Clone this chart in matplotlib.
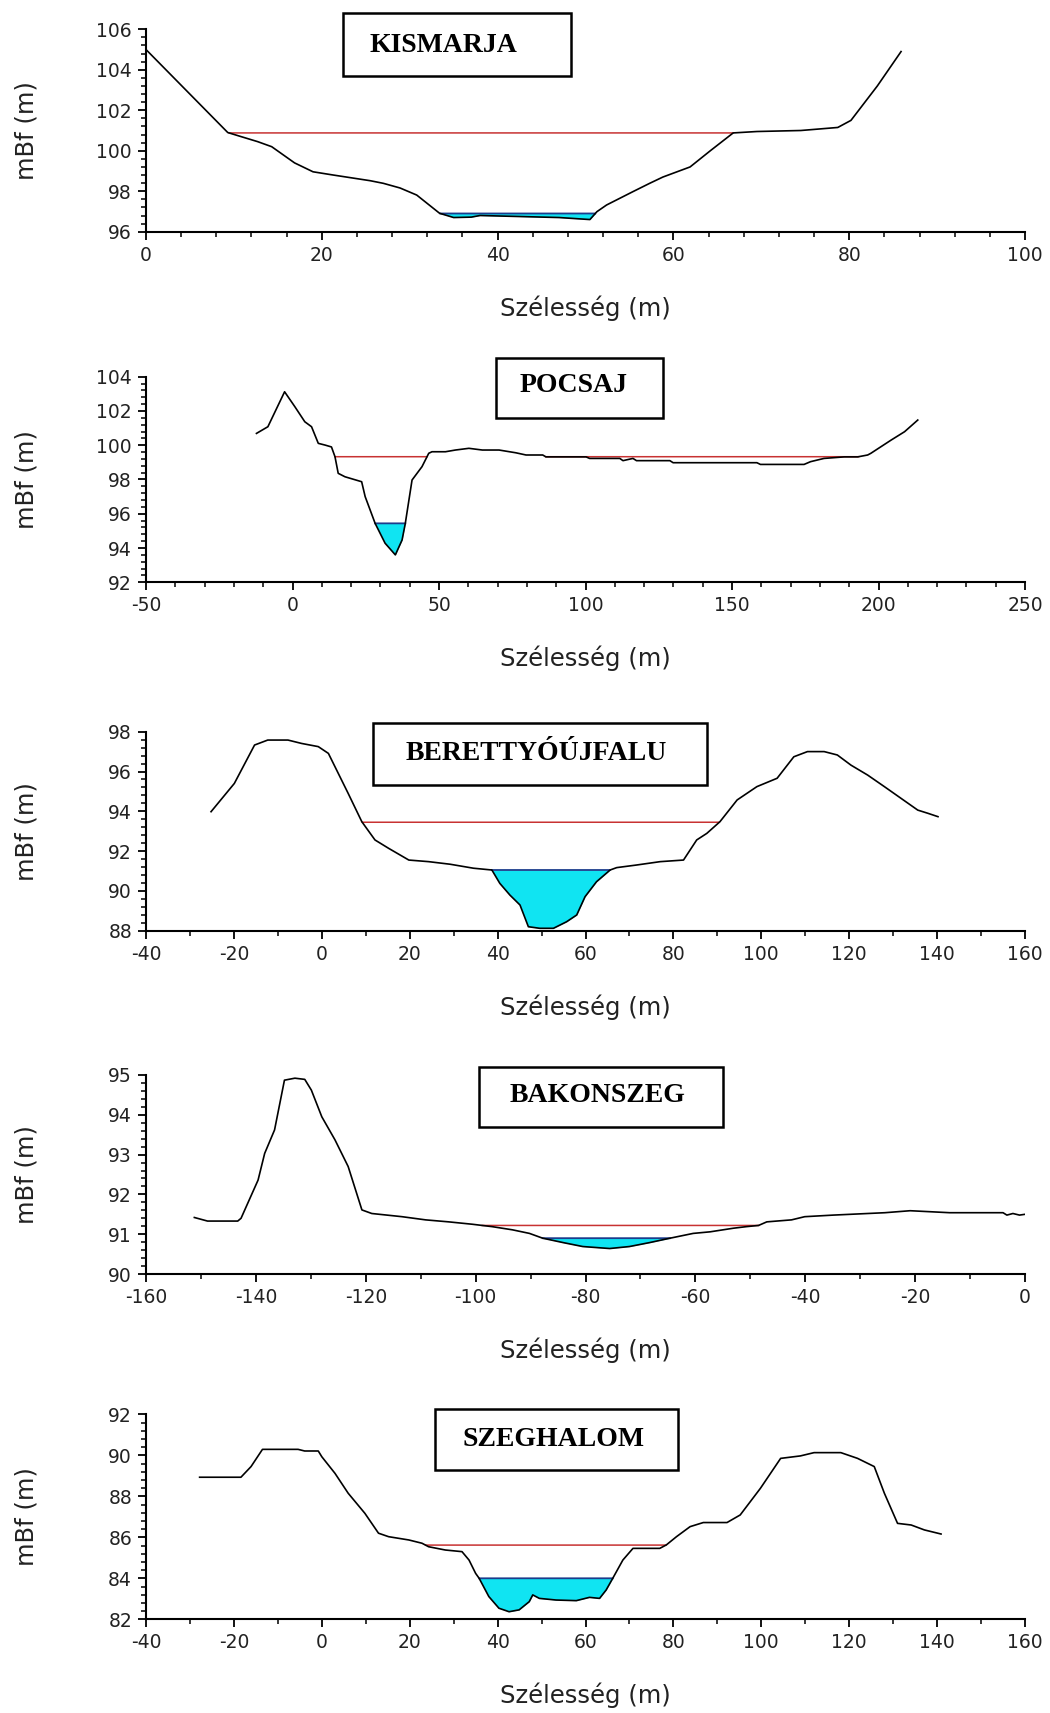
import numpy as np
import matplotlib.pyplot as plt
from matplotlib.ticker import MultipleLocator, AutoMinorLocator
from matplotlib.patches import Rectangle

plt.rcParams['font.family'] = ['DejaVu Sans']
plt.rcParams['axes.unicode_minus'] = False

#
# cross-section data [m, mBf]
#
kis_x = [0, 9.3, 10.8, 12.7, 14.3, 16.9, 19.0, 21.3, 25.5, 27.0, 28.9, 30.8, 33.4, 35, 37, 38, 47,
         50.5, 51.3, 52.4, 55.4, 57.3, 58.8, 61.9, 64.2, 66.8, 69.5, 74.5, 78.7, 80.2, 83.2, 85.9]
kis_z = [105.0, 100.9, 100.7, 100.45, 100.2, 99.4, 98.96, 98.8, 98.52, 98.39, 98.16, 97.81, 96.91,
         96.7, 96.72, 96.8, 96.7, 96.6, 96.99, 97.32, 97.98, 98.39, 98.7, 99.2, 100.0, 100.88,
         100.95, 101.0, 101.15, 101.5, 103.2, 104.9]
kis_flood, kis_water = 100.88, 96.9

poc_x = [-12.3, -8.4, -2.7, 0.8, 4.2, 6.5, 8.8, 11.1, 13.3, 14.5, 15.6, 17.9, 23.6, 24.8, 28.2,
         31.6, 35.1, 37.4, 38.5, 40.8, 44.2, 46.5, 47.6, 52.2, 55.6, 60.2, 64.8, 70.5, 76.2, 79.7,
         85.4, 86.5, 100.2, 101.4, 111.7, 112.8, 116.2, 117.4, 128.8, 129.9, 158.5, 159.7, 174.6,
         176.8, 181.4, 188.3, 192.9, 196.3, 197.4, 204.3, 208.9, 213.4]
poc_z = [100.69, 101.08, 103.12, 102.25, 101.37, 101.08, 100.11, 100.01, 99.9, 99.33, 98.36, 98.16,
         97.87, 97.0, 95.44, 94.28, 93.6, 94.47, 95.44, 97.97, 98.75, 99.53, 99.62, 99.62, 99.72,
         99.82, 99.72, 99.72, 99.56, 99.43, 99.43, 99.32, 99.32, 99.23, 99.23, 99.1, 99.23, 99.1,
         99.1, 98.98, 98.98, 98.88, 98.88, 99.04, 99.23, 99.32, 99.32, 99.43, 99.53, 100.3,
         100.79, 101.47]
poc_flood, poc_water = 99.33, 95.44

ber_x = [-25.2, -19.9, -15.3, -12.3, -7.7, -4.6, -0.8, 1.5, 3.0, 6.0, 9.1, 12.1, 15.2, 19.8, 24.3,
         29.2, 34.5, 38.7, 40.5, 42.8, 45.1, 47.0, 49.6, 52.7, 55.7, 58.0, 59.9, 62.5, 65.6, 67.1,
         71.6, 77.0, 82.3, 85.3, 87.6, 90.6, 94.5, 99.0, 103.6, 107.4, 110.5, 114.3, 117.3, 120.4,
         124.2, 128.0, 131.8, 135.6, 137.9, 140.2]
ber_z = [93.98, 95.4, 97.33, 97.58, 97.58, 97.41, 97.25, 96.91, 96.24, 94.9, 93.48, 92.56, 92.14,
         91.55, 91.47, 91.34, 91.14, 91.05, 90.38, 89.79, 89.29, 88.2, 88.12, 88.12, 88.45, 88.79,
         89.71, 90.46, 91.05, 91.17, 91.3, 91.47, 91.55, 92.56, 92.89, 93.48, 94.57, 95.24, 95.66,
         96.74, 97.0, 97.0, 96.83, 96.32, 95.82, 95.24, 94.65, 94.06, 93.9, 93.73]
ber_flood, ber_water = 93.45, 91.05

bak_x = [-151.2, -148.8, -143.3, -142.7, -139.6, -138.4, -136.6, -134.8, -132.9, -131.1, -129.9,
         -128.0, -125.6, -123.2, -120.7, -118.9, -113.4, -109.1, -104.9, -100.6, -97.0, -93.3,
         -90.2, -87.8, -84.1, -80.5, -75.6, -72.0, -68.3, -64.6, -60.4, -57.3, -53.1, -50.7, -48.5,
         -47.0, -42.5, -40.1, -34.9, -25.5, -20.9, -13.7, -4.0, -3.3, -2.2, -1.0, 0.0]
bak_z = [91.42, 91.33, 91.33, 91.4, 92.36, 93.03, 93.62, 94.87, 94.92, 94.89, 94.62, 93.95, 93.37,
         92.7, 91.61, 91.52, 91.44, 91.36, 91.31, 91.25, 91.19, 91.11, 91.02, 90.9, 90.79, 90.69,
         90.64, 90.69, 90.79, 90.9, 91.02, 91.06, 91.15, 91.19, 91.22, 91.31, 91.36, 91.44, 91.48,
         91.54, 91.59, 91.54, 91.54, 91.48, 91.52, 91.48, 91.5]
bak_flood, bak_water = 91.22, 90.9

sze_x = [-27.8, -18.4, -16.1, -13.5, -5.4, -3.9, -0.8, 0.0, 3.0, 6.0, 9.8, 12.9, 15.2, 19.8, 22.8,
         24.3, 28.1, 31.9, 33.5, 35.0, 35.8, 38.0, 40.3, 42.6, 44.9, 47.2, 48.0, 49.5, 53.3, 57.9,
         60.9, 63.2, 64.7, 66.2, 68.5, 70.8, 76.9, 78.4, 80.7, 83.8, 86.8, 92.2, 95.2, 99.8, 104.4,
         108.9, 112.0, 118.1, 121.9, 125.7, 128.0, 131.0, 134.1, 137.1, 140.9]
sze_z = [88.93, 88.93, 89.45, 90.29, 90.29, 90.21, 90.21, 89.93, 89.12, 88.15, 87.17, 86.2, 86.03,
         85.87, 85.71, 85.54, 85.38, 85.3, 84.89, 84.24, 84.0, 83.11, 82.54, 82.37, 82.46, 82.86,
         83.19, 83.02, 82.94, 82.91, 83.07, 83.02, 83.43, 84.0, 84.89, 85.46, 85.46, 85.63, 86.03,
         86.52, 86.72, 86.72, 87.09, 88.39, 89.85, 89.97, 90.13, 90.13, 89.85, 89.45, 88.15, 86.68,
         86.6, 86.36, 86.16]
sze_flood, sze_water = 85.62, 84.0

names = ['KISMARJA', 'POCSAJ', 'BERETTYÓÚJFALU', 'BAKONSZEG', 'SZEGHALOM']
xs_all = [kis_x, poc_x, ber_x, bak_x, sze_x]
zs_all = [kis_z, poc_z, ber_z, bak_z, sze_z]
flood_all = [kis_flood, poc_flood, ber_flood, bak_flood, sze_flood]
water_all = [kis_water, poc_water, ber_water, bak_water, sze_water]
xlims = [(0, 100), (-50, 250), (-40, 160), (-160, 0), (-40, 160)]
ylims = [(96, 106), (92, 104), (88, 98), (90, 95), (82, 92)]
xmaj = [20, 50, 20, 20, 20]
ymaj = [2, 2, 2, 1, 2]
xminor = [5, 5, 2, 2, 2]

#
# layout in pixels (figure 1050 x 1713)
#
W, H = 1050, 1713
ax_rows = [(29.3, 231.7), (376.7, 582.3), (731.7, 930.7), (1075, 1274), (1414.3, 1619.3)]
ax_left, ax_w = 146, 879
boxes = [(343, 13, 571, 76, 443, 45), (496, 358, 663, 418, 574, 386),
         (373, 723, 707, 785, 536, 753), (479, 1067, 723, 1127, 597, 1096),
         (435, 1409, 678, 1470, 553, 1439)]

fig = plt.figure(figsize=(W/100, H/100), dpi=100)
fig.patch.set_facecolor('white')

for ii in range(5):
    top, bot = ax_rows[ii]
    ax = fig.add_axes([ax_left/W, 1-bot/H, ax_w/W, (bot-top)/H])
    x = np.array(xs_all[ii], dtype=float)
    z = np.array(zs_all[ii], dtype=float)

    # dense grid for the water surfaces
    xd = np.linspace(x.min(), x.max(), 4000)
    zd = np.interp(xd, x, z)

    wl = water_all[ii]
    ax.fill_between(xd, zd, wl, where=zd <= wl, color='#10e4f2', lw=0, zorder=2)
    ax.plot(xd, np.where(zd <= wl, wl, np.nan), color='#1c3c8c', lw=1.3, zorder=3)

    fl = flood_all[ii]
    ax.plot(xd, np.where(zd <= fl, fl, np.nan), color='#c83232', lw=1.1, zorder=3)

    ax.plot(x, z, color='k', lw=1.2, zorder=4)

    ax.set_xlim(xlims[ii])
    ax.set_ylim(ylims[ii])
    ax.xaxis.set_major_locator(MultipleLocator(xmaj[ii]))
    ax.yaxis.set_major_locator(MultipleLocator(ymaj[ii]))
    ax.xaxis.set_minor_locator(AutoMinorLocator(xminor[ii]))
    ax.yaxis.set_minor_locator(AutoMinorLocator(5))
    for s in ['top', 'right']:
        ax.spines[s].set_visible(False)
    for s in ['left', 'bottom']:
        ax.spines[s].set_linewidth(1.5)
    ax.tick_params(which='major', direction='out', length=6, width=1.3, labelsize=13.5, pad=4,
                   labelcolor='#222222')
    ax.tick_params(which='minor', direction='out', length=3.5, width=1.1)
    ax.set_xlabel('Szélesség (m)', fontsize=17.5, labelpad=22, color='#222222')
    ax.set_ylabel('mBf (m)', fontsize=17.5, color='#222222')
    ax.yaxis.set_label_coords(-0.122, 0.5)
    ax.patch.set_alpha(0)

    # name box
    x0, y0, x1, y1, tx, ty = boxes[ii]
    fig.add_artist(Rectangle((x0/W, 1-y1/H), (x1-x0)/W, (y1-y0)/H, transform=fig.transFigure,
                             facecolor='white', edgecolor='k', lw=1.8, zorder=5))
    fig.text(tx/W, 1-ty/H, names[ii], family='Liberation Serif', weight='bold', fontsize=20,
             ha='center', va='center', zorder=6)

fig.savefig('out.png', dpi=100)
